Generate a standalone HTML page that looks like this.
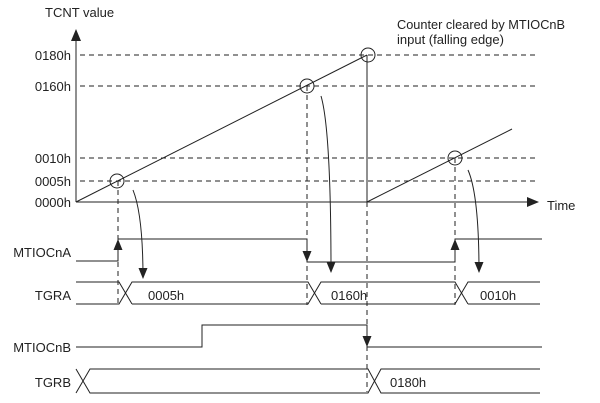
<!DOCTYPE html>
<html><head><style>body{margin:0;background:#fff}svg{display:block}text{font-family:"Liberation Sans",sans-serif;font-size:13px;fill:#222}.r{text-anchor:end}</style></head><body>
<svg width="600" height="403" viewBox="0 0 600 403">
<defs><marker id="a" markerWidth="11" markerHeight="9" refX="10" refY="4.5" orient="auto" markerUnits="userSpaceOnUse"><path d="M0,0 L11,4.5 L0,9 z" fill="#222"/></marker>
<marker id="b" markerWidth="12" markerHeight="10" refX="11" refY="5" orient="auto" markerUnits="userSpaceOnUse"><path d="M0,0 L12,5 L0,10 z" fill="#222"/></marker></defs>
<g stroke="#222" fill="none" stroke-width="1">
<line x1="76" y1="202" x2="76" y2="30" marker-end="url(#b)"/>
<line x1="76" y1="202" x2="538" y2="202" marker-end="url(#b)"/>
<g stroke-dasharray="5,4">
<line x1="80" y1="55" x2="537" y2="55"/>
<line x1="80" y1="86" x2="537" y2="86"/>
<line x1="80" y1="158" x2="537" y2="158"/>
<line x1="80" y1="181" x2="537" y2="181"/>
<line x1="118" y1="181" x2="118" y2="305"/>
<line x1="307" y1="86" x2="307" y2="305"/>
<line x1="455" y1="158" x2="455" y2="305"/>
<line x1="367" y1="202" x2="367" y2="392"/>
</g>
<line x1="76" y1="202" x2="367" y2="55"/>
<line x1="367" y1="55" x2="367" y2="202"/>
<line x1="367" y1="202" x2="512" y2="129"/>
<circle cx="117" cy="181" r="7"/>
<circle cx="307" cy="86" r="7"/>
<circle cx="368" cy="55" r="7"/>
<circle cx="455" cy="158" r="7"/>
<path d="M133,190 Q143,215 143,278" marker-end="url(#a)"/>
<path d="M321,96 Q331,130 331,272" marker-end="url(#a)"/>
<path d="M468,170 Q479,195 479,272" marker-end="url(#a)"/>
<path d="M76,261 H118 V239 H307 V262 H455 V239 H542"/>
<line x1="118" y1="258" x2="118" y2="240" marker-end="url(#a)"/>
<line x1="307" y1="245" x2="307" y2="261" marker-end="url(#a)"/>
<line x1="455" y1="258" x2="455" y2="240" marker-end="url(#a)"/>
<path d="M76,282 H119 L132,304 M76,304 H119 L132,282 H308 L321,304 M132,304 H308 L321,282 H455 L468,304 M321,304 H455 L468,282 H540 M468,304 H540"/>
<path d="M76,347 H202 V325 H367 V347 H542"/>
<line x1="367" y1="330" x2="367" y2="346" marker-end="url(#a)"/>
<path d="M76,393 L90,369 H368 L381,393 H540 M76,369 L90,393 H368 L381,369 H540"/>
</g>
<text x="45" y="17">TCNT value</text>
<text class="r" x="71" y="60">0180h</text>
<text class="r" x="71" y="91">0160h</text>
<text class="r" x="71" y="163">0010h</text>
<text class="r" x="71" y="186">0005h</text>
<text class="r" x="71" y="207">0000h</text>
<text x="547" y="210">Time</text>
<text x="397" y="29" textLength="168" lengthAdjust="spacingAndGlyphs">Counter cleared by MTIOCnB</text>
<text x="397" y="44">input (falling edge)</text>
<text class="r" x="71" y="257">MTIOCnA</text>
<text class="r" x="71" y="300">TGRA</text>
<text class="r" x="71" y="352">MTIOCnB</text>
<text class="r" x="71" y="387">TGRB</text>
<text x="148" y="300">0005h</text>
<text x="331" y="300">0160h</text>
<text x="480" y="300">0010h</text>
<text x="390" y="387">0180h</text>
</svg>
</body></html>
